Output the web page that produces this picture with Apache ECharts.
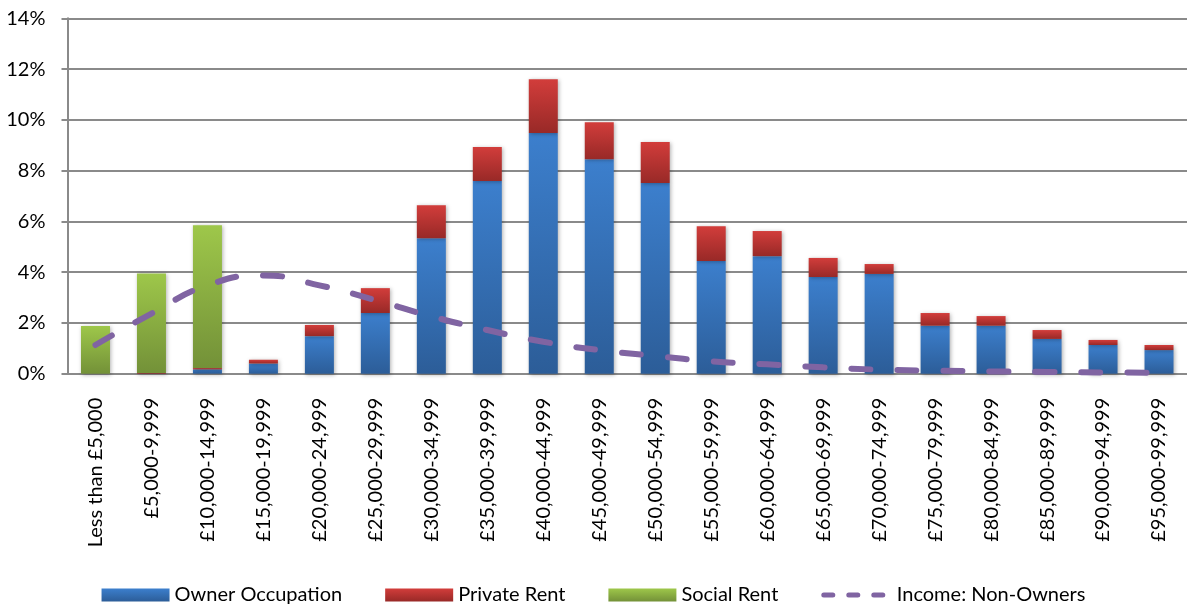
<!DOCTYPE html>
<html>
<head>
<meta charset="utf-8">
<script src="https://cdn.jsdelivr.net/npm/echarts@6/dist/echarts.min.js"></script>
<style>
  html, body { margin: 0; padding: 0; background: #fff; }
  #chart { width: 1187px; height: 606px; }
</style>
</head>
<body>
<div id="chart"></div>
<script>
// income bands
var categories = ['Less than £5,000', '£5,000-9,999', '£10,000-14,999', '£15,000-19,999',
  '£20,000-24,999', '£25,000-29,999', '£30,000-34,999', '£35,000-39,999', '£40,000-44,999',
  '£45,000-49,999', '£50,000-54,999', '£55,000-59,999', '£60,000-64,999', '£65,000-69,999',
  '£70,000-74,999', '£75,000-79,999', '£80,000-84,999', '£85,000-89,999', '£90,000-94,999',
  '£95,000-99,999']

// percentages
var ownerOccupation = [0, 0, 0.17, 0.40, 1.48, 2.39, 5.34, 7.59, 9.48, 8.45, 7.51, 4.44, 4.63, 3.81, 3.93, 1.89, 1.89, 1.37, 1.13, 0.93]
var privateRent = [0, 0.03, 0.05, 0.15, 0.44, 0.98, 1.30, 1.34, 2.12, 1.46, 1.62, 1.37, 0.99, 0.75, 0.39, 0.50, 0.38, 0.35, 0.20, 0.20]
var socialRent = [1.88, 3.92, 5.63, 0, 0, 0, 0, 0, 0, 0, 0, 0, 0, 0, 0, 0, 0, 0, 0, 0]
var incomeNonOwners = [1.13, 2.37, 3.48, 3.87, 3.48, 2.90, 2.26, 1.72, 1.26, 0.93, 0.70, 0.49, 0.37, 0.25, 0.16, 0.12, 0.09, 0.07, 0.05, 0.04]

var yTicks = { min: 0, max: 14, interval: 2 }

var font = 'Lato'
var grey = '#8a8a8a'
var purple = '#8064a2'

function grad (top, bottom) {
    return new echarts.graphic.LinearGradient(0, 0, 0, 1, [
        { offset: 0, color: top },
        { offset: 1, color: bottom }
    ])
}

function barSeries (name, data, top, bottom) {
    return {
        name: name,
        type: 'bar',
        stack: 'tenure',
        barWidth: 29,
        data: data,
        itemStyle: {
            color: grad(top, bottom),
            shadowBlur: 4,
            shadowColor: 'rgba(0,0,0,0.3)',
            shadowOffsetX: 1,
            shadowOffsetY: 1
        }
    }
}

var chart = echarts.init(document.getElementById('chart'), null, { renderer: 'canvas' })

var option = {
    animation: false,
    textStyle: { fontFamily: font, color: '#000' },
    grid: {
        left: 67.5,
        top: 18.3,
        width: 1124,
        height: 355.4,
        containLabel: false
    },
    legend: {
        left: 'center',
        top: 580,
        itemWidth: 68,
        itemHeight: 13,
        itemGap: 43,
        textStyle: { fontFamily: font, fontSize: 20, color: '#000' },
        data: [
            { name: 'Owner Occupation', icon: 'rect' },
            { name: 'Private Rent', icon: 'rect' },
            { name: 'Social Rent', icon: 'rect' },
            {
                name: 'Income: Non-Owners',
                itemStyle: { opacity: 0 },
                lineStyle: { color: purple, width: 5, cap: 'round', type: [9, 16] }
            }
        ]
    },
    xAxis: {
        type: 'category',
        data: categories,
        axisLine: { lineStyle: { color: grey, width: 2 } },
        axisTick: { length: 6, lineStyle: { color: grey, width: 2 } },
        axisLabel: {
            rotate: 90,
            margin: 24,
            interval: 0,
            fontFamily: font,
            fontSize: 20,
            color: '#000'
        }
    },
    yAxis: {
        type: 'value',
        min: yTicks.min,
        max: yTicks.max,
        interval: yTicks.interval,
        axisLine: { show: true, lineStyle: { color: grey, width: 2 } },
        axisTick: { show: true, length: 6, lineStyle: { color: grey, width: 2 } },
        splitLine: { lineStyle: { color: grey, width: 2 } },
        axisLabel: {
            margin: 22,
            fontFamily: font,
            fontSize: 20,
            color: '#000',
            formatter: function (v) { return v + '%' }
        }
    },
    series: [
        barSeries('Owner Occupation', ownerOccupation, '#3c7fcd', '#2c5d98'),
        barSeries('Private Rent', privateRent, '#d23d3b', '#982927'),
        barSeries('Social Rent', socialRent, '#9ec74a', '#739138'),
        {
            name: 'Income: Non-Owners',
            type: 'line',
            data: incomeNonOwners,
            smooth: true,
            symbol: 'none',
            z: 5,
            itemStyle: { color: purple },
            lineStyle: {
                color: purple,
                width: 6,
                cap: 'round',
                type: [19, 27]
            }
        }
    ]
}

chart.setOption(option)
</script>
</body>
</html>
